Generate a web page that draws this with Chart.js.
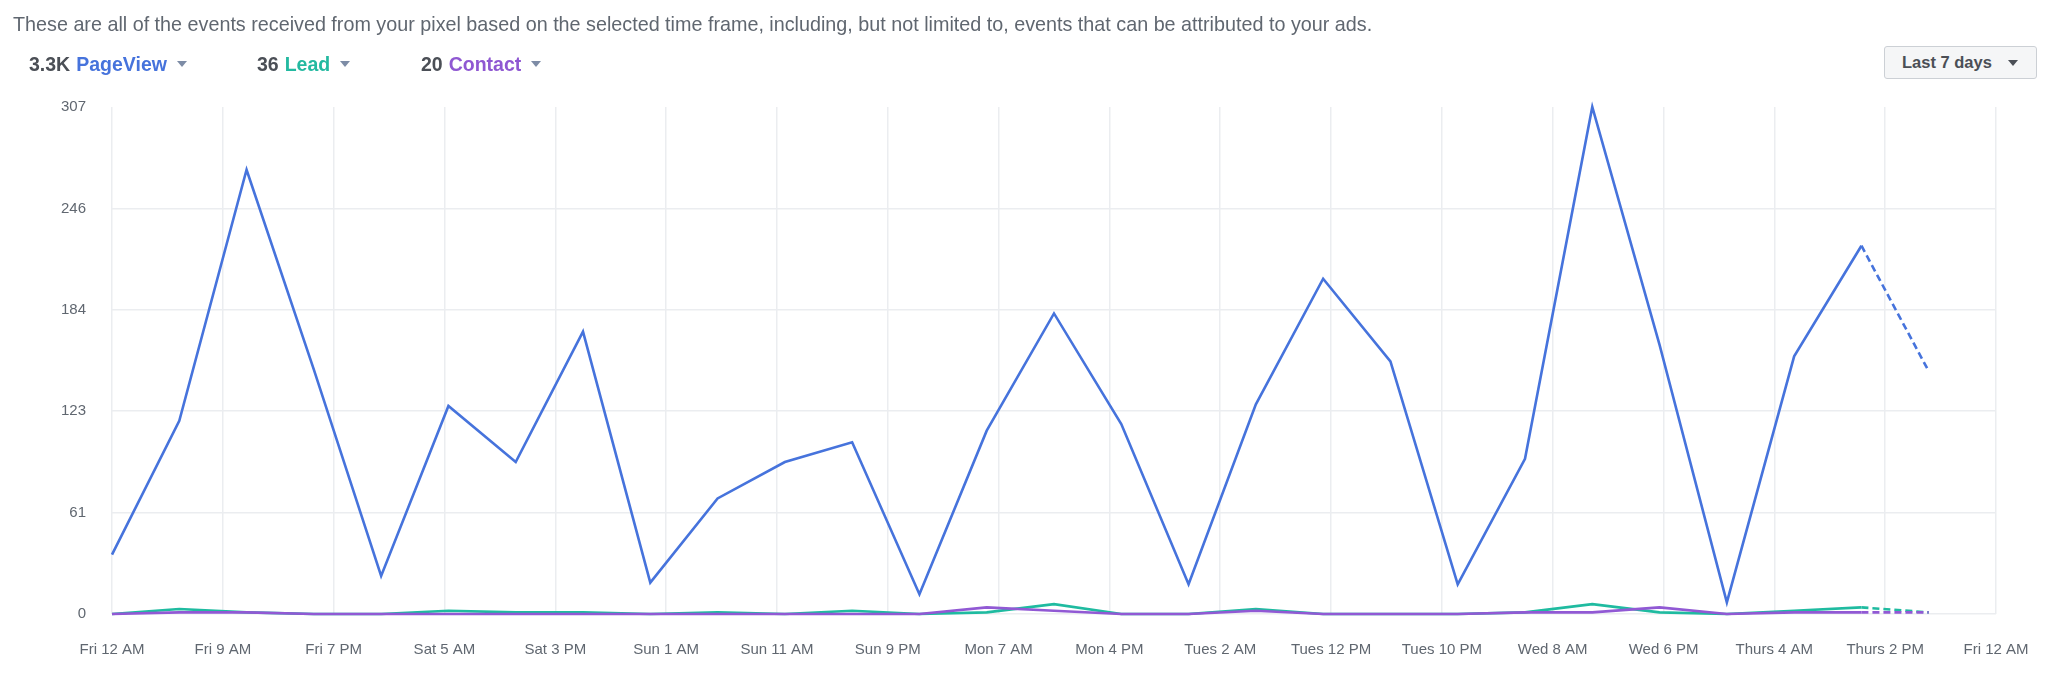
<!DOCTYPE html>
<html>
<head>
<meta charset="utf-8">
<script src="https://cdn.jsdelivr.net/npm/chart.js@4.4.1/dist/chart.umd.min.js"></script>
<style>
  html, body { margin: 0; padding: 0; background: #ffffff; }
  body { width: 2048px; height: 687px; position: relative; overflow: hidden; font-family: "Liberation Sans", Arial, sans-serif; }
  #chart { position: absolute; left: 0; top: 0; }
  #desc { position: absolute; left: 13px; top: 13px; font-size: 19.75px; line-height: 22px; color: #606770; white-space: nowrap; }
  .leg { position: absolute; top: 52px; font-size: 19.5px; line-height: 24px; font-weight: bold; white-space: nowrap; }
  .leg .num { color: #4b4f56; margin-right: 6px; }
  .tri { display: inline-block; width: 0; height: 0; border-left: 5.5px solid transparent; border-right: 5.5px solid transparent; border-top: 6px solid #7d8ca6; margin-left: 10px; vertical-align: middle; position: relative; top: -2px; }
  #btn { position: absolute; left: 1884px; top: 46px; width: 151px; height: 31px; border: 1px solid #ccd0d5; background: #f5f6f7; border-radius: 3px; box-sizing: content-box; }
  #btn span { position: absolute; left: 17px; top: 5px; font-size: 16.5px; line-height: 21px; font-weight: bold; color: #4b4f56; white-space: nowrap; }
  #btn i { position: absolute; left: 123px; top: 13px; width: 0; height: 0; border-left: 5.5px solid transparent; border-right: 5.5px solid transparent; border-top: 6px solid #4b4f56; }
</style>
</head>
<body>
<canvas id="chart" width="2048" height="687"></canvas>
<div id="desc">These are all of the events received from your pixel based on the selected time frame, including, but not limited to, events that can be attributed to your ads.</div>
<div class="leg" style="left:29px"><span class="num">3.3K</span><span style="color:#4673dc">PageView</span><span class="tri"></span></div>
<div class="leg" style="left:257px"><span class="num">36</span><span style="color:#23b9a0">Lead</span><span class="tri"></span></div>
<div class="leg" style="left:421px"><span class="num">20</span><span style="color:#8f58d2">Contact</span><span class="tri"></span></div>
<div id="btn"><span>Last 7 days</span><i></i></div>
<script>
// hours since Fri 12 AM (6-hour buckets)
const hours = [0,6,12,18,24,30,36,42,48,54,60,66,72,78,84,90,96,102,108,114,120,126,132,138,144,150,156,162];
const pageView = [36,117,269,148,23,126,92,171,19,70,92,104,12,111,182,115,18,127,203,153,18,94,307,163,7,156,223,147];
const lead = [0,3,1,0,0,2,1,1,0,1,0,2,0,1,6,0,0,3,0,0,0,1,6,1,0,2,4,1];
const contact = [0,1,1,0,0,0,0,0,0,0,0,0,0,4,2,0,0,2,0,0,0,1,1,4,0,1,1,1];
const xTickLabels = ["Fri 12 AM","Fri 9 AM","Fri 7 PM","Sat 5 AM","Sat 3 PM","Sun 1 AM","Sun 11 AM","Sun 9 PM","Mon 7 AM","Mon 4 PM","Tues 2 AM","Tues 12 PM","Tues 10 PM","Wed 8 AM","Wed 6 PM","Thurs 4 AM","Thurs 2 PM","Fri 12 AM"];
const yTickValues = [0, 61.4, 122.8, 184.2, 245.6, 307];
const yTickLabels = ["0","61","123","184","246","307"];
const X_MAX = 168;

const lastIdx = hours.length - 1;
function toPts(vals) { return vals.map((v, i) => ({ x: hours[i], y: v })); }
function ds(label, vals, color) {
  return {
    label, data: toPts(vals), borderColor: color, backgroundColor: color,
    borderWidth: 2.6, pointRadius: 0, tension: 0, fill: false, clip: false,
    segment: { borderDash: ctx => ctx.p1DataIndex === lastIdx ? [7, 4] : undefined }
  };
}

new Chart(document.getElementById('chart'), {
  type: 'line',
  data: {
    datasets: [
      ds('PageView', pageView, '#4673dc'),
      ds('Contact', contact, '#9159d4'),
      ds('Lead', lead, '#1fbba0')
    ]
  },
  options: {
    responsive: false,
    animation: false,
    layout: { padding: { left: 0, right: 52, top: 107, bottom: 0 } },
    plugins: { legend: { display: false }, tooltip: { enabled: false } },
    scales: {
      x: {
        type: 'linear', min: 0, max: X_MAX,
        afterBuildTicks: s => { s.ticks = xTickLabels.map((l, i) => ({ value: i * X_MAX / (xTickLabels.length - 1) })); },
        afterFit: s => { s.height = 73; },
        ticks: {
          autoSkip: false, maxRotation: 0, padding: 3,
          color: '#606770', font: { family: 'Liberation Sans', size: 15 },
          callback: (v, i) => xTickLabels[i]
        },
        grid: { color: '#ebedf0', lineWidth: 1.5, drawTicks: true, tickLength: 24, tickColor: 'rgba(0,0,0,0)' },
        border: { display: false }
      },
      y: {
        min: 0, max: 307,
        afterBuildTicks: s => { s.ticks = yTickValues.map(v => ({ value: v })); },
        afterFit: s => { s.width = 112; },
        ticks: {
          padding: 26, color: '#606770', font: { family: 'Liberation Sans', size: 15 },
          callback: (v, i) => yTickLabels[i]
        },
        grid: {
          color: ctx => (ctx.tick && ctx.tick.value === 307) ? 'rgba(0,0,0,0)' : '#ebedf0',
          lineWidth: 1.5, drawTicks: false
        },
        border: { display: false }
      }
    }
  }
});
</script>
</body>
</html>
